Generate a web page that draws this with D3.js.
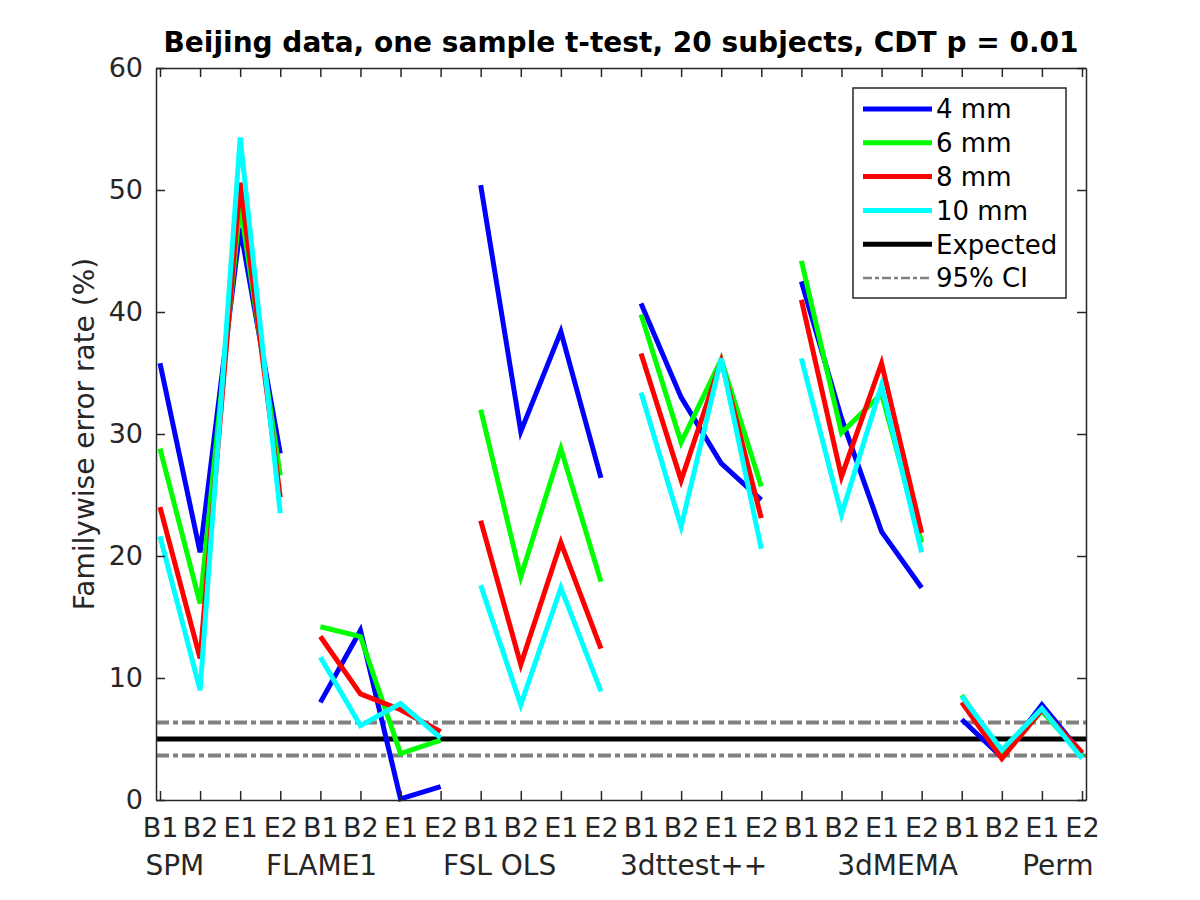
<!DOCTYPE html>
<html>
<head>
<meta charset="utf-8">
<script src="https://cdn.jsdelivr.net/npm/d3@7"></script>
<style>
  body { margin: 0; background: #fff; }
  text { font-family: 'DejaVu Sans', sans-serif; fill: #262626; }
</style>
</head>
<body>
<div class="chart"></div>
<script>
// categories
const groups = ['SPM', 'FLAME1', 'FSL OLS', '3dttest++', '3dMEMA', 'Perm'];
const conditions = ['B1', 'B2', 'E1', 'E2'];
const smoothing = ['4 mm', '6 mm', '8 mm', '10 mm'];

// familywise error rate (%), one array per smoothing, 4 values per group
const fwe4 = [
  35.8, 20.3, 46.9, 28.4,
  8.0, 13.9, 0.1, 1.1,
  50.4, 30.2, 38.4, 26.4,
  40.7, 33.0, 27.6, 24.6,
  42.5, 31.3, 22.0, 17.4,
  6.6, 3.5, 7.8, 3.8
];
const fwe6 = [
  28.8, 16.1, 48.8, 26.6,
  14.2, 13.4, 3.8, 4.9,
  32.0, 18.3, 28.8, 17.9,
  39.8, 29.3, 36.1, 25.7,
  44.2, 30.1, 33.3, 21.1,
  8.6, 3.7, 7.3, 3.6
];
const fwe8 = [
  24.0, 11.6, 50.6, 24.8,
  13.4, 8.7, 7.4, 5.6,
  22.9, 11.1, 21.1, 12.4,
  36.6, 26.2, 36.0, 23.1,
  41.0, 26.5, 35.8, 21.9,
  8.0, 3.4, 7.4, 3.9
];
const fwe10 = [
  21.6, 9.0, 54.3, 23.5,
  11.7, 6.1, 7.9, 5.1,
  17.6, 7.8, 17.4, 8.9,
  33.4, 22.4, 36.2, 20.6,
  36.2, 23.4, 34.0, 20.3,
  8.5, 4.1, 7.5, 3.4
];

const expected = 5;
const ciLow = 3.65;
const ciHigh = 6.35;

const yTicks = [0, 10, 20, 30, 40, 50, 60];
// where the method names sit along the x axis
const groupLabelPos = [1.37, 5.03, 9.47, 14.31, 19.4, 23.4];

const series = [fwe4, fwe6, fwe8, fwe10];
const colors = ['#0000ff', '#00ff00', '#ff0000', '#00ffff'];

const width = 1200;
const height = 900;
const axisColor = '#262626';

const svg = d3
  .select('.chart')
  .append('svg')
  .attr('width', width)
  .attr('height', height);

const positions = d3.range(1, groups.length * conditions.length + 1);

const x = d3.scaleLinear().domain([0.9, 24.1]).range([156, 1086]);
const y = d3.scaleLinear().domain([0, 60]).range([800, 68]);

// expected rate and its 95% CI, drawn under the data
svg
  .append('line')
  .attr('x1', x(0.9))
  .attr('x2', x(24.1))
  .attr('y1', y(expected))
  .attr('y2', y(expected))
  .attr('stroke', '#000')
  .attr('stroke-width', 5);

svg
  .selectAll('.ci')
  .data([ciLow, ciHigh])
  .enter()
  .append('line')
  .attr('class', 'ci')
  .attr('x1', x(0.9))
  .attr('x2', x(24.1))
  .attr('y1', (d) => y(d))
  .attr('y2', (d) => y(d))
  .attr('stroke', '#808080')
  .attr('stroke-width', 4)
  .attr('stroke-dasharray', '13,4,5,4');

// one polyline per method and smoothing level
const line = d3
  .line()
  .x((d) => x(d.pos))
  .y((d) => y(d.value));

series.forEach((values, s) => {
  groups.forEach((g, gi) => {
    const pts = conditions.map((c, ci) => {
      const i = gi * conditions.length + ci;
      return { pos: positions[i], value: values[i] };
    });
    svg
      .append('path')
      .datum(pts)
      .attr('d', line)
      .attr('fill', 'none')
      .attr('stroke', colors[s])
      .attr('stroke-width', 5);
  });
});

// axes, MATLAB style box with inward ticks
const axisB = svg
  .append('g')
  .attr('transform', 'translate(0,800)')
  .call(
    d3
      .axisBottom(x)
      .tickValues(positions)
      .tickSizeInner(-9)
      .tickSizeOuter(0)
      .tickPadding(18)
      .tickFormat((d, i) => conditions[i % conditions.length])
  );

const axisL = svg
  .append('g')
  .attr('transform', 'translate(156,0)')
  .call(d3.axisLeft(y).tickValues(yTicks).tickSizeInner(-9).tickSizeOuter(0).tickPadding(13));

const axisT = svg
  .append('g')
  .attr('transform', 'translate(0,68)')
  .call(d3.axisTop(x).tickValues(positions).tickSizeInner(-9).tickSizeOuter(0).tickFormat(''));

const axisR = svg
  .append('g')
  .attr('transform', 'translate(1086,0)')
  .call(d3.axisRight(y).tickValues(yTicks).tickSizeInner(-9).tickSizeOuter(0).tickFormat(''));

[axisB, axisL, axisT, axisR].forEach((a) => {
  a.selectAll('path, line').attr('stroke', axisColor).attr('stroke-width', 1.5);
  a.selectAll('text')
    .attr('fill', axisColor)
    .style('font-family', "'DejaVu Sans', sans-serif")
    .style('font-size', '27px');
});

// method names under the condition labels
svg
  .selectAll('.group')
  .data(groups)
  .enter()
  .append('text')
  .attr('class', 'group')
  .attr('x', (d, i) => x(groupLabelPos[i]))
  .attr('y', 875)
  .attr('text-anchor', 'middle')
  .style('font-size', '28px')
  .text((d) => d);

// title
svg
  .append('text')
  .attr('x', (156 + 1086) / 2)
  .attr('y', 52)
  .attr('text-anchor', 'middle')
  .style('font-size', '28px')
  .style('font-weight', 'bold')
  .style('fill', '#000')
  .text('Beijing data, one sample t-test, 20 subjects, CDT p = 0.01');

// y label
svg
  .append('text')
  .attr('transform', 'translate(94,434) rotate(-90)')
  .attr('text-anchor', 'middle')
  .style('font-size', '28px')
  .text('Familywise error rate (%)');

// legend
const legendItems = smoothing
  .map((s, i) => ({ label: s, color: colors[i], width: 5, dash: null }))
  .concat([
    { label: 'Expected', color: '#000', width: 5, dash: null },
    { label: '95% CI', color: '#808080', width: 2.5, dash: '9,3,4,3' }
  ]);

const legend = svg.append('g').attr('transform', 'translate(853,88)');

legend
  .append('rect')
  .attr('width', 213)
  .attr('height', 210)
  .attr('fill', '#fff')
  .attr('stroke', axisColor)
  .attr('stroke-width', 1.5);

const rows = legend
  .selectAll('.row')
  .data(legendItems)
  .enter()
  .append('g')
  .attr('class', 'row')
  .attr('transform', (d, i) => `translate(0,${21 + i * 33.8})`);

rows
  .append('line')
  .attr('x1', 10)
  .attr('x2', 79)
  .attr('stroke', (d) => d.color)
  .attr('stroke-width', (d) => d.width)
  .attr('stroke-dasharray', (d) => d.dash);

rows
  .append('text')
  .attr('x', 83)
  .attr('dy', '0.36em')
  .style('font-size', '26px')
  .style('fill', '#000')
  .text((d) => d.label);
</script>
</body>
</html>
